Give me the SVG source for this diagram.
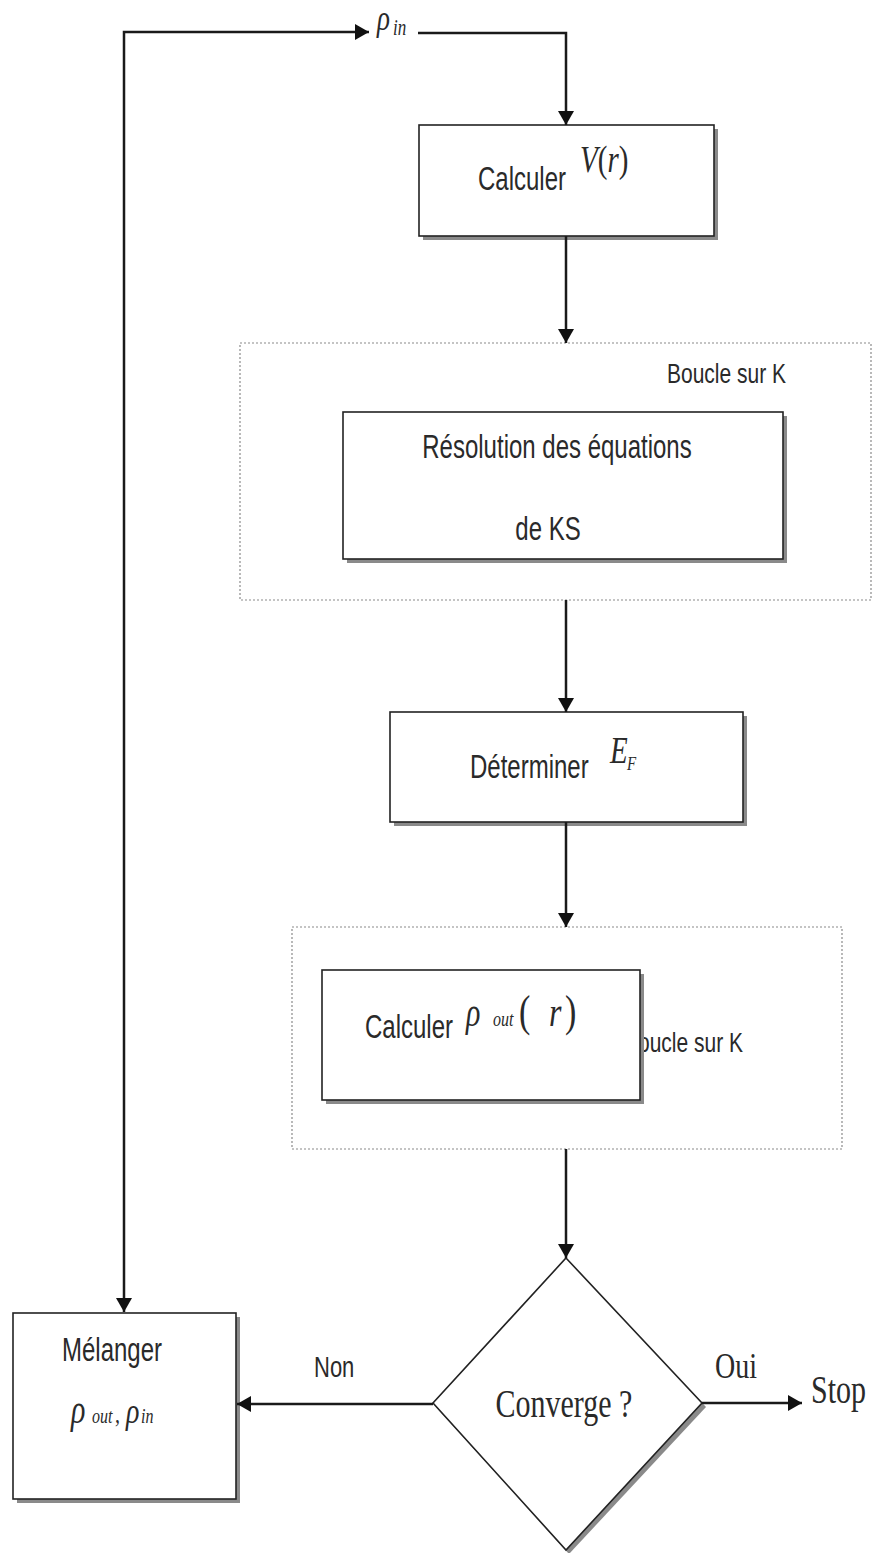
<svg xmlns="http://www.w3.org/2000/svg" width="872" height="1553" viewBox="0 0 872 1553">
<style>
.box{fill:#fff;stroke:#222;stroke-width:1.6}
.shadow{fill:#8a8a8a}
.loop{fill:none;stroke:#8a8a8a;stroke-width:1.2;stroke-dasharray:2 2}
.conn{fill:none;stroke:#1a1a1a;stroke-width:2.5}
.t{font-family:"Liberation Sans",Arial,sans-serif;fill:#2a2a2a}
.s{font-family:"Liberation Serif","Times New Roman",serif;fill:#2a2a2a}
.m{font-family:"Liberation Serif","Times New Roman",serif;font-style:italic;fill:#2a2a2a}
</style>
<defs>
<marker id="arr" viewBox="0 0 10 10" refX="10" refY="5" markerWidth="14" markerHeight="16" markerUnits="userSpaceOnUse" orient="auto-start-reverse" preserveAspectRatio="none">
<path d="M0,0 L10,5 L0,10 z" fill="#111"/>
</marker>
</defs>

<rect width="872" height="1553" fill="#fff"/>

<g id="loop1">
<rect class="loop" x="240" y="343" width="631" height="257"/>
<text class="t" font-size="21" transform="translate(667,383) scale(1,1.3)">Boucle sur K</text>
</g>

<g id="loop2">
<rect class="loop" x="292" y="927" width="550" height="222"/>
<text class="t" font-size="21" transform="translate(624,1052) scale(1,1.3)">Boucle sur K</text>
</g>

<g id="rho-in">
<text class="m" transform="translate(0,30) scale(1,1.3)"><tspan x="377" font-size="27">ρ</tspan><tspan x="393" font-size="17" dy="4">in</tspan></text>
</g>

<g id="calc-v">
<rect class="shadow" x="423" y="129" width="295" height="111"/>
<rect class="box" x="419" y="125" width="295" height="111"/>
<text class="t" font-size="24" transform="translate(478,190) scale(1,1.35)">Calculer</text>
<text class="m" font-size="29" transform="translate(580,172) scale(1,1.3)">V<tspan font-style="normal">(</tspan>r<tspan font-style="normal">)</tspan></text>
</g>

<g id="ks">
<rect class="shadow" x="347" y="416" width="440" height="147"/>
<rect class="box" x="343" y="412" width="440" height="147"/>
<text class="t" font-size="24" text-anchor="middle" transform="translate(557,458) scale(1,1.35)">Résolution des équations</text>
<text class="t" font-size="24" text-anchor="middle" transform="translate(548,540) scale(1,1.35)">de KS</text>
</g>

<g id="ef">
<rect class="shadow" x="394" y="716" width="353" height="110"/>
<rect class="box" x="390" y="712" width="353" height="110"/>
<text class="t" font-size="24" transform="translate(470,778) scale(1,1.35)">Déterminer</text>
<text class="m" transform="translate(0,763) scale(1,1.3)"><tspan x="610" font-size="29">E</tspan><tspan x="627" font-size="15" dy="5">F</tspan></text>
</g>

<g id="calc-rho">
<rect class="shadow" x="326" y="974" width="318" height="130"/>
<rect class="box" x="322" y="970" width="318" height="130"/>
<text class="t" font-size="24" transform="translate(365,1038) scale(1,1.35)">Calculer</text>
<text class="m" transform="translate(0,1026) scale(1,1.3)"><tspan x="466" font-size="30">ρ</tspan><tspan x="493" font-size="16">out</tspan><tspan x="519" font-size="34" font-style="normal">(</tspan><tspan x="549" font-size="32">r</tspan><tspan x="565" font-size="34" font-style="normal">)</tspan></text>
</g>

<g id="converge">
<polygon class="shadow" points="569,1262 706,1407 569,1554 436,1407"/>
<polygon class="box" points="566,1258 702,1403 566,1550 433,1403"/>
<text class="s" font-size="30" text-anchor="middle" transform="translate(564,1417) scale(1,1.3)">Converge ?</text>
</g>

<g id="melanger">
<rect class="shadow" x="17" y="1317" width="223" height="186"/>
<rect class="box" x="13" y="1313" width="223" height="186"/>
<text class="t" font-size="24" transform="translate(62,1361) scale(1,1.35)">Mélanger</text>
<text class="m" transform="translate(0,1423) scale(1,1.3)"><tspan x="71" font-size="30">ρ</tspan><tspan x="92" font-size="16">out</tspan><tspan x="115" font-size="20" font-style="normal">,</tspan><tspan x="126" font-size="28">ρ</tspan><tspan x="141" font-size="16">in</tspan></text>
</g>

<g id="labels">
<text class="t" font-size="22" transform="translate(314,1377) scale(1,1.3)">Non</text>
<text class="s" font-size="28" transform="translate(715,1378) scale(1,1.3)">Oui</text>
<text class="s" font-size="30" transform="translate(811,1403) scale(1,1.3)">Stop</text>
</g>

<g id="connectors">
<path class="conn" d="M124,1312 L124,32 L369,32" marker-start="url(#arr)" marker-end="url(#arr)"/>
<path class="conn" d="M418,33 L566,33 L566,125" marker-end="url(#arr)"/>
<path class="conn" d="M566,236 L566,343" marker-end="url(#arr)"/>
<path class="conn" d="M566,600 L566,712" marker-end="url(#arr)"/>
<path class="conn" d="M566,822 L566,927" marker-end="url(#arr)"/>
<path class="conn" d="M566,1149 L566,1258" marker-end="url(#arr)"/>
<path class="conn" d="M433,1404 L237,1404" marker-end="url(#arr)"/>
<path class="conn" d="M702,1403 L802,1403" marker-end="url(#arr)"/>
</g>
</svg>
